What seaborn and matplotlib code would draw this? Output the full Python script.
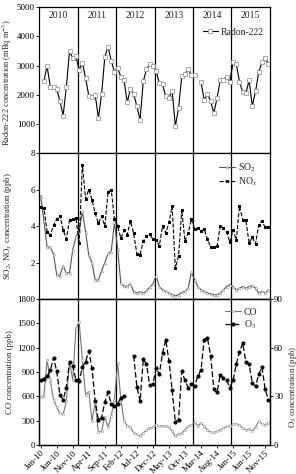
import numpy as np
import pandas as pd
import matplotlib
matplotlib.use("Agg")
import matplotlib.pyplot as plt
import seaborn as sns

nan = np.nan

# monthly means, Jan 2010 - Dec 2015
months = pd.date_range("2010-01-01", periods=72, freq="MS")

radon = [nan, 2460, 2980, 2280, 2250, 2180, 1800, 1280, 2260, 3490, 3250, 3310,
         2850, 3100, 2570, 1970, 1930, 2000, 1200, 2020, 3290, 3650, 3170, 2780,
         2910, 2620, 2490, 1740, 2200, 2030, 1600, 1150, 2460, 2870, 3060, 2970,
         2800, 2400, 2350, 1940, 1880, 2140, 920, 1540, 2630, 2710, 2890, 2660,
         2690, nan, 2430, 1820, 2020, 1780, 1370, 1890, 2490, 2520, 2620, 2430,
         3110, 3040, 2450, 2090, 2060, 2490, 1610, 2110, 2770, 3110, 3260, 3060]

so2 = [5.66, 4.3, 2.85, 2.85, 2.46, 1.33, 1.28, 1.83, 1.42, 1.45, 2.7, 3.4,
       3.75, 4.8, 3.7, 2.4, 2.0, 1.05, 1.05, 1.55, 2.0, 2.5, 2.6, 4.2,
       2.75, 0.87, 0.7, 0.7, 0.85, 0.4, 0.35, 0.4, 0.33, 0.45, 0.65, 0.84,
       1.28, 0.69, 0.51, 0.42, 0.33, 0.24, 0.18, 0.24, 0.37, 0.42, 0.6, 1.46,
       1.06, 0.69, 0.51, 0.42, 0.33, 0.29, 0.24, 0.24, 0.33, 0.51, 0.69, 0.79,
       0.69, 0.51, 0.6, 0.69, 0.6, 0.69, 0.73, 0.6, 0.33, 0.42, 0.33, 0.51]

nox = [5.05, 4.98, 3.7, 3.5, 4.04, 4.38, 4.58, 3.8, 3.29, 4.35, 4.38, 4.45,
       3.05, 7.35, 5.5, 6.0, 5.45, 4.7, 4.15, 4.55, 4.0, 5.85, 6.0, 4.4,
       4.0, 3.34, 3.76, 3.53, 4.29, 3.6, 2.48, 2.43, 3.18, 3.45, 3.54, 3.29,
       3.25, 2.92, 4.02, 3.62, 4.2, 5.08, 1.7, 2.37, 4.9, 3.16, 3.62, 4.38,
       3.84, 3.89, 3.71, 3.84, 3.29, 2.85, 2.85, 2.89, 4.02, 3.89, 3.65, 3.11,
       3.8, 3.22, 5.1, 4.35, 4.31, 3.07, 3.4, 3.02, 4.07, 4.29, 3.93, 3.93]

co = [590, 610, 1050, 800, 560, 470, 390, 380, 540, 1030, 800, 1440,
      1520, 1050, 620, 660, 300, 520, 160, 170, 350, 220, 360, 560,
      1010, 560, 300, 240, 220, 150, 140, 110, 155, 180, 215, 218,
      251, 230, 238, 230, 218, 169, 107, 140, 148, 189, 230, 251,
      279, 238, 271, 230, 189, 156, 156, 169, 189, 210, 230, 230,
      259, 259, 251, 210, 189, 197, 169, 222, 292, 263, 251, 271]

o3 = [40, 41, 42.5, 46, 53.8, 45.5, 31, 28, 35.5, 51.5, 49, 40,
      39.5, 48, 51.5, 58, 47.5, 27, 15.5, 17, 26.5, 32.5, 25.5, 24,
      25.5, 29, 30.5, nan, nan, 55, 36, 27, 52.8, 50, 36.8, 37.6,
      47.5, 43.8, 56.7, 65, 52, 33.7, 14.2, 15.6, 45.4, 39.9, 35.5, 37.6,
      36.6, 42.3, 46.4, 65, 66, 55, 34.5, 32.5, 43.4, 41.3, 39.9, 35.5,
      39.9, 50, 57.3, 62.9, 51, 50, 38.2, 36.2, 43.8, 48, 34.5, 28]

df = pd.DataFrame({"t": np.arange(len(months)), "radon": radon, "so2": so2,
                   "nox": nox, "co": co, "o3": o3})

sns.set_theme(style="ticks")
plt.rcParams["font.family"] = ["Liberation Serif", "DejaVu Serif"]
plt.rcParams["mathtext.fontset"] = "stix"
plt.rcParams["axes.linewidth"] = 0.9
plt.rcParams["axes.edgecolor"] = "black"
plt.rcParams["xtick.color"] = "black"
plt.rcParams["ytick.color"] = "black"

FS = 7
LFS = 6.3


def draw(ax, col, label, **kw):
    # split at missing months so the line breaks like the original
    ok = df[col].notna()
    seg = df[col].isna().cumsum()[ok]
    first = True
    for _, part in df[ok].groupby(seg):
        if first:
            sns.lineplot(data=part, x="t", y=col, ax=ax, label=label, legend=False, **kw)
            first = False
        else:
            sns.lineplot(data=part, x="t", y=col, ax=ax, legend=False, **kw)


fig = plt.figure(figsize=(2.96, 4.74), dpi=100)
L, W, H = 0.132, 0.780, 0.308
ax1 = fig.add_axes([L, 0.677, W, H])
ax2 = fig.add_axes([L, 0.369, W, H])
ax3 = fig.add_axes([L, 0.061, W, H])

draw(ax1, "radon", "Radon-222", color="black", lw=0.8, marker="s", markersize=2.3,
     mfc="white", mec="#8a8a8a", mew=0.5)
draw(ax2, "so2", "SO$_2$", color="#555555", lw=0.8, marker="^", markersize=2,
     mfc="white", mec="#999999", mew=0.4)
draw(ax2, "nox", "NO$_x$", color="black", lw=0.8, linestyle="--", marker="s",
     markersize=1.9, mfc="black", mec="black")
draw(ax3, "co", "CO", color="#777777", lw=0.8, marker="o", markersize=1.7,
     mfc="white", mec="#999999", mew=0.4)
ax3r = ax3.twinx()
draw(ax3r, "o3", "O$_3$", color="black", lw=0.9, linestyle=(0, (4.5, 2)), marker="o",
     markersize=2.2, mfc="black", mec="black")

years = months.year
bounds = [i - 0.5 for i in range(1, len(months)) if years[i] != years[i - 1]]
for ax in (ax1, ax2, ax3):
    ax.set_xlim(-0.5, len(months) - 0.5)
    for b in bounds:
        ax.axvline(b, color="black", lw=0.9, zorder=0)
    ax.tick_params(axis="both", labelsize=FS - 0.5, length=2, width=0.6, pad=1)
    ax.set_xlabel("")

ax1.set_ylim(0, 5000)
ax1.set_yticks([1000, 2000, 3000, 4000, 5000])
ax2.set_ylim(0, 8)
ax2.set_yticks([2, 4, 6, 8])
ax3.set_ylim(0, 1800)
ax3.set_yticks(range(0, 1801, 300))
ax3r.set_ylim(0, 90)
ax3r.set_yticks([0, 30, 60, 90])
ax3r.tick_params(axis="y", labelsize=FS - 0.5, length=2, width=0.6, pad=1)

ax1.set_xticks([])
ax2.set_xticks([])
tick_idx = list(range(0, len(months), 5))
ax3.set_xticks(tick_idx)
ax3.set_xticklabels([months[i].strftime("%b-%y") for i in tick_idx],
                    rotation=45, ha="right", rotation_mode="anchor")

# year labels in the top panel
for y in sorted(set(years)):
    idx = df["t"][years == y]
    ax1.text(idx.mean(), 4700, str(y), ha="center", va="center", fontsize=FS)

ax1.set_ylabel("Radon-222 concentration (mBq m$^{-3}$)", fontsize=6.0)
ax2.set_ylabel("SO$_2$, NO$_x$ concentration (ppb)", fontsize=LFS)
ax3.set_ylabel("CO concentration (ppb)", fontsize=LFS)
ax3r.set_ylabel("O$_3$ concentration (ppb)", fontsize=LFS)
for ax in (ax1, ax2, ax3):
    ax.yaxis.set_label_coords(-0.108, 0.5)
ax1.yaxis.set_label_coords(-0.108, 0.48)
ax3r.yaxis.set_label_coords(1.072, 0.4)

leg_kw = dict(frameon=False, fontsize=FS, handlelength=1.6, handletextpad=0.3,
              labelspacing=0.15, borderaxespad=0.2)
ax1.legend(loc="upper right", bbox_to_anchor=(1.0, 0.9), **leg_kw)
ax2.legend(loc="upper right", bbox_to_anchor=(0.97, 0.98), **leg_kw)
h1, l1 = ax3.get_legend_handles_labels()
h2, l2 = ax3r.get_legend_handles_labels()
ax3r.legend(h1 + h2, l1 + l2, loc="upper right", bbox_to_anchor=(0.97, 0.98), **leg_kw)

fig.savefig("out.png", dpi=100)
